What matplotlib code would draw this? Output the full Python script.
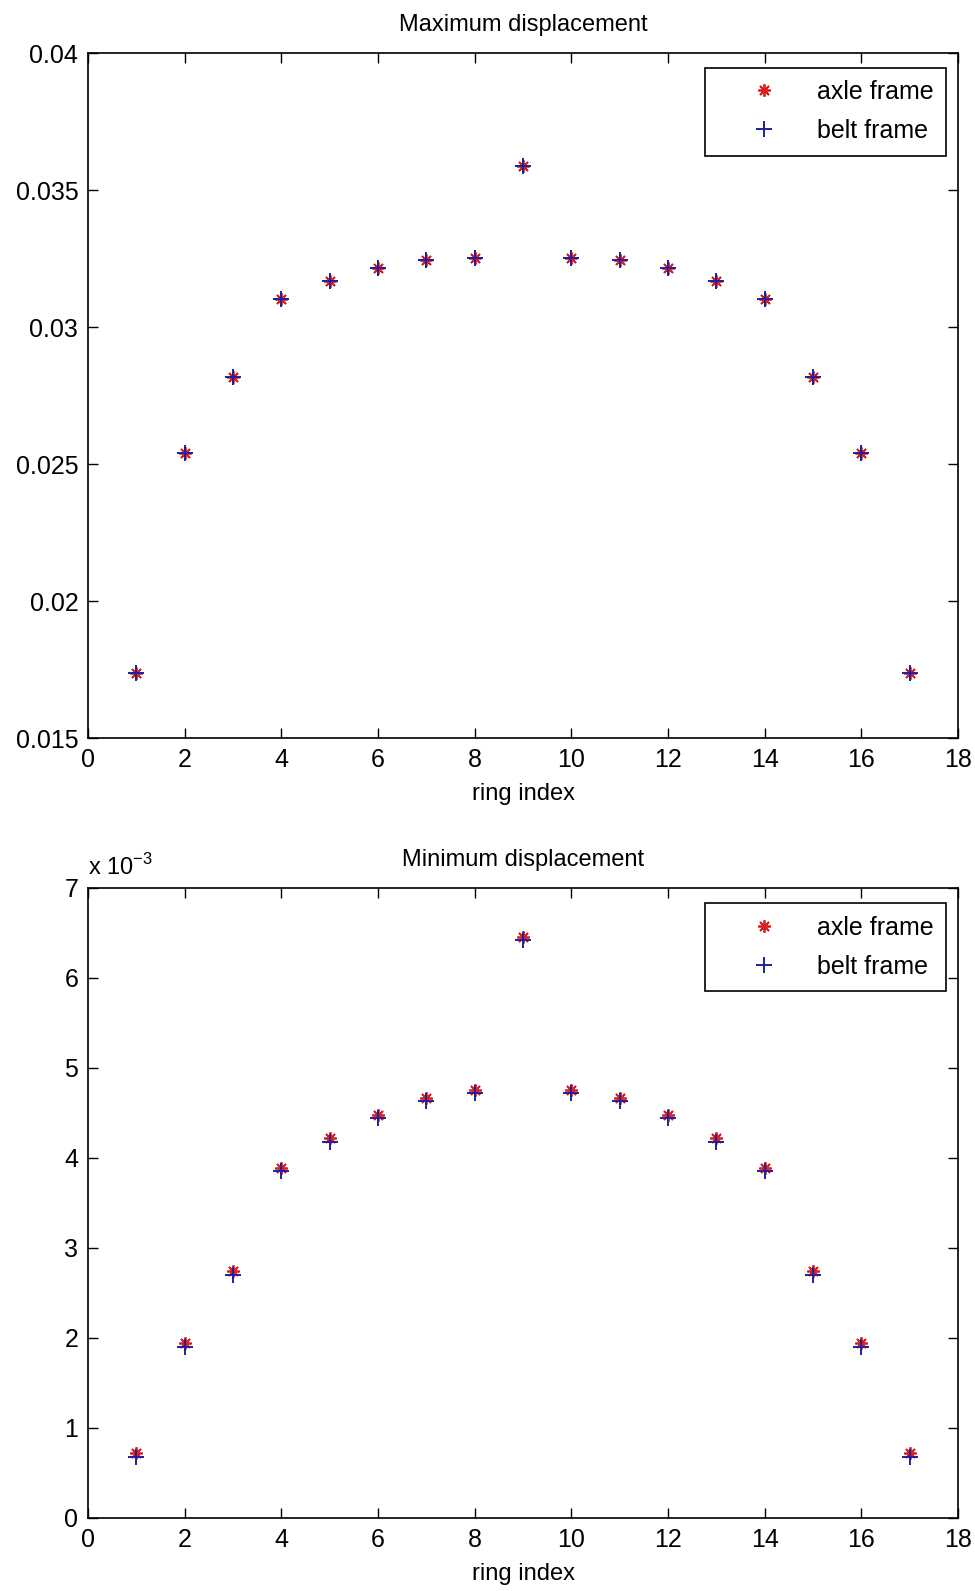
import matplotlib.pyplot as plt

ring_index = list(range(1, 18))

max_axle = [0.01737, 0.02541, 0.02819, 0.03104, 0.03170, 0.03215, 0.03244, 0.03252, 0.03589,
            0.03252, 0.03244, 0.03215, 0.03170, 0.03104, 0.02819, 0.02541, 0.01737]
max_belt = [0.01737, 0.02541, 0.02819, 0.03104, 0.03170, 0.03215, 0.03244, 0.03252, 0.03589,
            0.03252, 0.03244, 0.03215, 0.03170, 0.03104, 0.02819, 0.02541, 0.01737]

# minimum displacement, in units of 1e-3
min_axle = [0.72, 1.94, 2.74, 3.89, 4.22, 4.48, 4.67, 4.76, 6.46,
            4.76, 4.67, 4.48, 4.22, 3.89, 2.74, 1.94, 0.72]
min_belt = [0.68, 1.90, 2.70, 3.85, 4.18, 4.44, 4.63, 4.72, 6.42,
            4.72, 4.63, 4.44, 4.18, 3.85, 2.70, 1.90, 0.68]

titles = ["Maximum displacement", "Minimum displacement"]
max_yticks = [0.015, 0.02, 0.025, 0.03, 0.035, 0.04]
max_yticklabels = ["0.015", "0.02", "0.025", "0.03", "0.035", "0.04"]
min_yticks = [0, 1, 2, 3, 4, 5, 6, 7]
xticks = [0, 2, 4, 6, 8, 10, 12, 14, 16, 18]

plt.rcParams['font.family'] = ['Liberation Sans', 'DejaVu Sans']
plt.rcParams['font.size'] = 17

fig = plt.figure(figsize=(9.75, 15.91), dpi=100)
ax1 = fig.add_axes([0.0903, 0.5361, 0.8923, 0.4305])
ax2 = fig.add_axes([0.0903, 0.0459, 0.8923, 0.3960])

red = (0.85, 0.12, 0.12)
blue = (0.12, 0.12, 0.62)

for ax, axle, belt, title, ly in [(ax1, max_axle, max_belt, titles[0], 0.979),
                                  (ax2, min_axle, min_belt, titles[1], 0.976)]:
    # matlab style asterisk: eight thin arms
    ax.plot(ring_index, axle, linestyle='none', marker=(8, 2, 0), markersize=9,
            markeredgewidth=1.3, color=red, label='axle frame')
    ax.plot(ring_index, belt, linestyle='none', marker='+', markersize=11,
            markeredgewidth=1.4, color=blue, label='belt frame')
    ax.set_xlim(0, 18)
    ax.set_xticks(xticks)
    ax.set_xlabel('ring index', labelpad=8, fontsize=17)
    ax.set_title(title, fontsize=17, pad=16)
    ax.tick_params(direction='in', length=7, width=1, top=True, right=True,
                   labelsize=18, pad=7)
    for s in ax.spines.values():
        s.set_linewidth(1.2)
    leg = ax.legend(loc='upper right', fancybox=False, framealpha=1,
                    edgecolor='black', borderpad=0.5, handlelength=3.7,
                    handletextpad=0.25, labelspacing=0.6, fontsize=18,
                    borderaxespad=0, bbox_to_anchor=(0.986, ly))
    leg.get_frame().set_linewidth(1.2)

ax1.set_ylim(0.015, 0.04)
ax1.set_yticks(max_yticks)
ax1.set_yticklabels(max_yticklabels)

ax2.set_ylim(0, 7)
ax2.set_yticks(min_yticks)
ax2.text(0.0, 1.012, r'x 10$^{\mathregular{-3}}$', transform=ax2.transAxes, fontsize=17,
         ha='left', va='bottom')

fig.savefig('out.png', dpi=100)
